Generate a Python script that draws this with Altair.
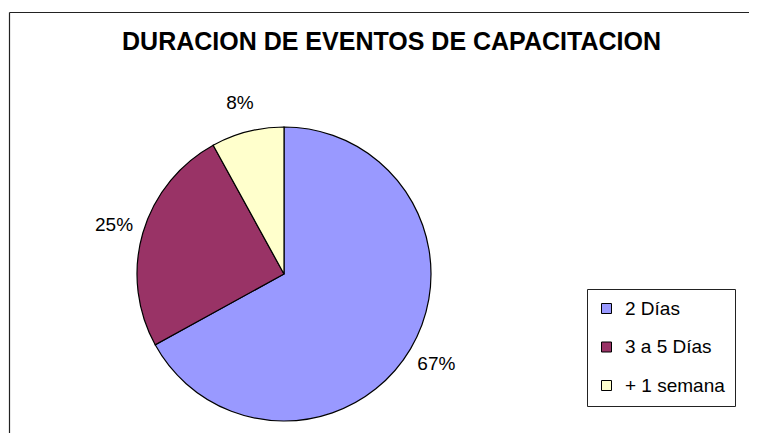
import altair as alt
import pandas as pd

categories = ["2 Días", "3 a 5 Días", "\u00a0+ 1 semana"]
values = [67, 25, 8]
labels = ["67%", "25%", "8%"]
colors = ["#9999FF", "#993366", "#FFFFCC"]
order = [0, 1, 2]
title_text = "DURACION DE EVENTOS DE CAPACITACION"

df = pd.DataFrame({"cat": categories, "val": values, "label": labels, "ord": order})

FONT = "Liberation Sans, Arial, sans-serif"
CX, CY, R = 276, 266, 147

base = alt.Chart(df).encode(
    theta=alt.Theta("val:Q", stack=True),
    order=alt.Order("ord:Q"),
)

pie = base.mark_arc(outerRadius=R, stroke="black", strokeWidth=1.2).encode(
    x=alt.value(CX),
    y=alt.value(CY),
    color=alt.Color(
        "cat:N",
        scale=alt.Scale(domain=categories, range=colors),
        sort=categories,
        legend=alt.Legend(
            title=None,
            orient="none",
            legendX=579,
            legendY=281,
            strokeColor="#222",
            padding=10,
            symbolType="square",
            symbolSize=100,
            symbolStrokeColor="black",
            symbolStrokeWidth=1,
            symbolOpacity=1,
            labelFontSize=19,
            labelFont=FONT,
            labelColor="black",
            labelOffset=9,
            rowPadding=18.5,
        ),
    ),
)

text = base.mark_text(radius=177, fontSize=19, font=FONT, color="black").encode(
    x=alt.value(CX),
    y=alt.value(CY),
    text="label:N",
)

one = pd.DataFrame({"a": [0]})
top_line = alt.Chart(one).mark_rule(stroke="#222", strokeWidth=1.2).encode(
    x=alt.value(1.5), x2=alt.value(2000), y=alt.value(4.5)
)
left_line = alt.Chart(one).mark_rule(stroke="#222", strokeWidth=1.2).encode(
    x=alt.value(1.5), y=alt.value(4.5), y2=alt.value(2000)
)

chart = (
    alt.layer(top_line, left_line, pie, text)
    .properties(
        width=741,
        height=425,
        autosize=alt.AutoSizeParams(type="none"),
        padding={"left": 0, "top": 0, "right": 0, "bottom": 0},
        title=alt.TitleParams(
            text=title_text,
            fontSize=25,
            fontWeight="bold",
            font=FONT,
            color="black",
            anchor="middle",
            dy=51,
            dx=13,
        ),
    )
    .configure_view(strokeWidth=0)
)

chart.save("out.html", embed_options={"renderer": "svg", "actions": False})
